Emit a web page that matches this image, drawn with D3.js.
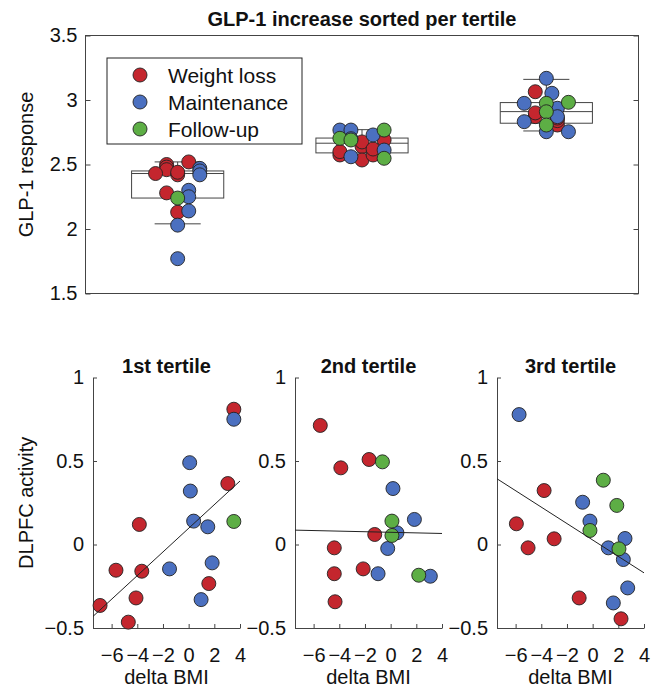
<meta charset="utf-8">
<script src="https://d3js.org/d3.v7.min.js"></script>
<style>
  body { margin: 0; background: #fff; }
  svg text { font-family: "Liberation Sans", Arial, sans-serif; fill: #111; }
</style>
<div id="chart"></div>
<script>
// phases: 0 = Weight loss, 1 = Maintenance, 2 = Follow-up
var phases = ["Weight loss", "Maintenance", "Follow-up"]
var phaseColor = ["#c4262e", "#4b70c0", "#5dae45"]

// top panel: GLP-1 response per tertile, swarm slot (x-offset in slots)
var glp1_t1 = [2.50, 2.48, 2.46, 2.52, 2.43, 2.42, 2.44, 2.28, 2.13, 2.47, 2.45, 2.42, 2.30, 2.25, 2.14, 2.03, 1.77, 2.24]
var phase_t1 = [0, 0, 0, 0, 0, 0, 0, 0, 0, 1, 1, 1, 1, 1, 1, 1, 1, 2]
var slot_t1 = [-1, -1, -1, 1, -2, 0, 0, -1, 0, 2, 2, 2, 1, 1, 1, 0, 0, 0]

var glp1_t2 = [2.69, 2.64, 2.675, 2.574, 2.535, 2.574, 2.60, 2.62, 2.767, 2.767, 2.729, 2.56, 2.612, 2.70, 2.703, 2.69, 2.767, 2.548]
var phase_t2 = [0, 0, 0, 0, 0, 0, 0, 0, 1, 1, 1, 1, 1, 1, 2, 2, 2, 2]
var slot_t2 = [2, 0, 0, -2, 0, 1, -2, 1, -2, -1, 1, -1, 2, -1, -2, -1, 2, 2]

var glp1_t3 = [3.064, 2.871, 2.806, 2.84, 2.90, 2.86, 3.168, 3.052, 2.974, 2.936, 2.871, 2.832, 2.754, 2.754, 2.974, 2.982, 2.909, 2.806]
var phase_t3 = [0, 0, 0, 0, 0, 0, 1, 1, 1, 1, 1, 1, 1, 1, 2, 2, 2, 2]
var slot_t3 = [-1, -1, 1, 1, -1, 1, 0, 0.5, -2, 1, 1, -2, 0, 2, 0, 2, 0, 0]

// box plot statistics per tertile
var whiskerHigh = [2.52, 2.77, 3.16]
var q3 = [2.45, 2.705, 2.98]
var median = [2.43, 2.665, 2.91]
var q1 = [2.24, 2.59, 2.82]
var whiskerLow = [2.04, 2.535, 2.76]

// bottom panels: delta BMI vs DLPFC activity
var bmi_t1 = [3.52, 3.05, -3.84, -5.66, -3.65, 1.57, -4.1, -6.9, -4.7, 3.52, 0.08, 0.13, 0.39, 1.49, 1.83, -1.49, 0.97, 3.52]
var dlpfc_t1 = [0.81, 0.365, 0.12, -0.154, -0.16, -0.234, -0.32, -0.365, -0.465, 0.75, 0.49, 0.32, 0.14, 0.106, -0.11, -0.146, -0.33, 0.138]
var phaseB_t1 = [0, 0, 0, 0, 0, 0, 0, 0, 0, 1, 1, 1, 1, 1, 1, 1, 1, 2]

var bmi_t2 = [-5.48, -3.88, -1.68, -1.24, -4.39, -4.39, -2.14, -4.33, 0.18, 1.85, 0.49, -0.23, -0.98, 3.09, -0.64, 0.1, 0.1, 2.19]
var dlpfc_t2 = [0.713, 0.459, 0.509, 0.06, -0.02, -0.175, -0.146, -0.343, 0.335, 0.15, 0.07, -0.024, -0.175, -0.19, 0.495, 0.14, 0.054, -0.184]
var phaseB_t2 = [0, 0, 0, 0, 0, 0, 0, 0, 1, 1, 1, 1, 1, 1, 2, 2, 2, 2]

var bmi_t3 = [-3.78, -5.94, -3.0, -5.03, -1.05, 2.21, -5.73, -0.78, -0.21, 2.52, 1.22, 2.39, 2.73, 1.61, 0.83, 1.88, -0.21, 2.05]
var dlpfc_t3 = [0.323, 0.124, 0.034, -0.02, -0.32, -0.445, 0.778, 0.253, 0.14, 0.036, -0.02, -0.09, -0.26, -0.35, 0.385, 0.234, 0.084, -0.026]
var phaseB_t3 = [0, 0, 0, 0, 0, 0, 1, 1, 1, 1, 1, 1, 1, 1, 2, 2, 2, 2]

// linear fits
var fitSlope = [0.0708, -0.00175, -0.0492]
var fitIntercept = [0.097, 0.073, 0.027]

var panelTitles = ["1st tertile", "2nd tertile", "3rd tertile"]
var topTicks = [1.5, 2, 2.5, 3, 3.5]
var bmiTicks = [-6, -4, -2, 0, 2, 4]
var dlpfcTicks = [-0.5, 0, 0.5, 1]

var W = 659, H = 687
var svg = d3.select("#chart").append("svg")
    .attr("width", W).attr("height", H)

var axisColor = "#444"
var slotWidth = 0.06

// ---------- top panel ----------
var xTop = d3.scaleLinear().domain([0.5, 3.5]).range([85.5, 638.5])
var yTop = d3.scaleLinear().domain([1.5, 3.5]).range([293.5, 35.5])

var topG = svg.append("g")

topG.append("rect")
    .attr("x", xTop(0.5)).attr("y", yTop(3.5))
    .attr("width", xTop(3.5) - xTop(0.5)).attr("height", yTop(1.5) - yTop(3.5))
    .attr("fill", "none").attr("stroke", axisColor).attr("stroke-width", 1)

var yAxisTop = topG.append("g")
    .attr("transform", "translate(" + xTop(0.5) + ",0)")
    .call(d3.axisLeft(yTop).tickValues(topTicks).tickSizeInner(-5).tickSizeOuter(0).tickPadding(8)
        .tickFormat(d3.format("")))
yAxisTop.select(".domain").remove()
yAxisTop.selectAll("line").attr("stroke", axisColor)
yAxisTop.selectAll("text").style("font-size", "20px").attr("fill", "#111")

var yAxisTopR = topG.append("g")
    .attr("transform", "translate(" + xTop(3.5) + ",0)")
    .call(d3.axisRight(yTop).tickValues(topTicks).tickSizeInner(-5).tickSizeOuter(0).tickFormat(""))
yAxisTopR.select(".domain").remove()
yAxisTopR.selectAll("line").attr("stroke", axisColor)

topG.append("text")
    .attr("x", (xTop(0.5) + xTop(3.5)) / 2).attr("y", 26)
    .attr("text-anchor", "middle")
    .style("font-size", "20px").style("font-weight", "bold")
    .text("GLP-1 increase sorted per tertile")

topG.append("text")
    .attr("transform", "translate(33," + (yTop(2.5)) + ") rotate(-90)")
    .attr("text-anchor", "middle")
    .style("font-size", "20px")
    .text("GLP-1 response")

// boxes
var boxW = 0.25, capW = 0.125
var boxes = topG.append("g").attr("stroke", axisColor).attr("fill", "none").attr("stroke-width", 1)
for (var i = 0; i < 3; i++) {
    var c = i + 1
    boxes.append("line").attr("x1", xTop(c)).attr("x2", xTop(c))
        .attr("y1", yTop(whiskerHigh[i])).attr("y2", yTop(q3[i]))
    boxes.append("line").attr("x1", xTop(c)).attr("x2", xTop(c))
        .attr("y1", yTop(q1[i])).attr("y2", yTop(whiskerLow[i]))
    boxes.append("line").attr("x1", xTop(c - capW)).attr("x2", xTop(c + capW))
        .attr("y1", yTop(whiskerHigh[i])).attr("y2", yTop(whiskerHigh[i]))
    boxes.append("line").attr("x1", xTop(c - capW)).attr("x2", xTop(c + capW))
        .attr("y1", yTop(whiskerLow[i])).attr("y2", yTop(whiskerLow[i]))
    boxes.append("rect").attr("x", xTop(c - boxW)).attr("y", yTop(q3[i]))
        .attr("width", xTop(c + boxW) - xTop(c - boxW)).attr("height", yTop(q1[i]) - yTop(q3[i]))
    boxes.append("line").attr("x1", xTop(c - boxW)).attr("x2", xTop(c + boxW))
        .attr("y1", yTop(median[i])).attr("y2", yTop(median[i]))
}

var topSets = [[glp1_t1, phase_t1, slot_t1], [glp1_t2, phase_t2, slot_t2], [glp1_t3, phase_t3, slot_t3]]
topSets.forEach(function(s, i) {
    var pts = s[0].map(function(v, j) { return { v: v, p: s[1][j], x: i + 1 + s[2][j] * slotWidth } })
    topG.append("g").selectAll("circle").data(pts).enter().append("circle")
        .attr("cx", function(d) { return xTop(d.x) })
        .attr("cy", function(d) { return yTop(d.v) })
        .attr("r", 7)
        .attr("fill", function(d) { return phaseColor[d.p] })
        .attr("stroke", "#222").attr("stroke-width", 0.9)
})

// legend
var lg = topG.append("g").attr("transform", "translate(107,58)")
lg.append("rect").attr("width", 195).attr("height", 86)
    .attr("fill", "#fff").attr("stroke", "#222").attr("stroke-width", 1)
phases.forEach(function(p, i) {
    lg.append("circle").attr("cx", 33).attr("cy", 17 + i * 27).attr("r", 7)
        .attr("fill", phaseColor[i]).attr("stroke", "#222").attr("stroke-width", 0.9)
    lg.append("text").attr("x", 61).attr("y", 17 + i * 27 + 7.5)
        .style("font-size", "21px").text(p)
})

// ---------- bottom panels ----------
var yB = d3.scaleLinear().domain([-0.5, 1]).range([628, 377.5])
var lefts = [93, 295, 497]
var bottomSets = [[bmi_t1, dlpfc_t1, phaseB_t1], [bmi_t2, dlpfc_t2, phaseB_t2], [bmi_t3, dlpfc_t3, phaseB_t3]]

bottomSets.forEach(function(s, i) {
    var xB = d3.scaleLinear().domain([-7.45, 4]).range([lefts[i], lefts[i] + 147])
    var g = svg.append("g")

    var ax = g.append("g").attr("transform", "translate(" + lefts[i] + ",0)")
        .call(d3.axisLeft(yB).tickValues(dlpfcTicks).tickSizeInner(-4).tickSizeOuter(0).tickPadding(9)
            .tickFormat(d3.format("")))
    ax.select(".domain").attr("stroke", axisColor)
    ax.selectAll("line").attr("stroke", axisColor)
    ax.selectAll("text").style("font-size", "20px").attr("fill", "#111")

    var bx = g.append("g").attr("transform", "translate(0," + yB(-0.5) + ")")
        .call(d3.axisBottom(xB).tickValues(bmiTicks).tickSizeInner(-4).tickSizeOuter(0).tickPadding(20)
            .tickFormat(d3.format("")))
    bx.select(".domain").attr("stroke", axisColor)
    bx.selectAll("line").attr("stroke", axisColor)
    bx.selectAll("text").style("font-size", "20px").attr("fill", "#111")

    g.append("text")
        .attr("x", (xB(-7.45) + xB(4)) / 2).attr("y", 373)
        .attr("text-anchor", "middle")
        .style("font-size", "20px").style("font-weight", "bold")
        .text(panelTitles[i])

    g.append("text")
        .attr("x", (xB(-7.45) + xB(4)) / 2).attr("y", 684)
        .attr("text-anchor", "middle")
        .style("font-size", "20px")
        .text("delta BMI")

    var pts = s[0].map(function(v, j) { return { x: v, y: s[1][j], p: s[2][j] } })
    g.append("g").selectAll("circle").data(pts).enter().append("circle")
        .attr("cx", function(d) { return xB(d.x) })
        .attr("cy", function(d) { return yB(d.y) })
        .attr("r", 7)
        .attr("fill", function(d) { return phaseColor[d.p] })
        .attr("stroke", "#222").attr("stroke-width", 0.9)

    var dom = xB.domain()
    g.append("line")
        .attr("x1", xB(dom[0])).attr("y1", yB(fitIntercept[i] + fitSlope[i] * dom[0]))
        .attr("x2", xB(dom[1])).attr("y2", yB(fitIntercept[i] + fitSlope[i] * dom[1]))
        .attr("stroke", "#222").attr("stroke-width", 1)
})

svg.append("text")
    .attr("transform", "translate(33," + yB(0.25) + ") rotate(-90)")
    .attr("text-anchor", "middle")
    .style("font-size", "20px")
    .text("DLPFC activity")
</script>
